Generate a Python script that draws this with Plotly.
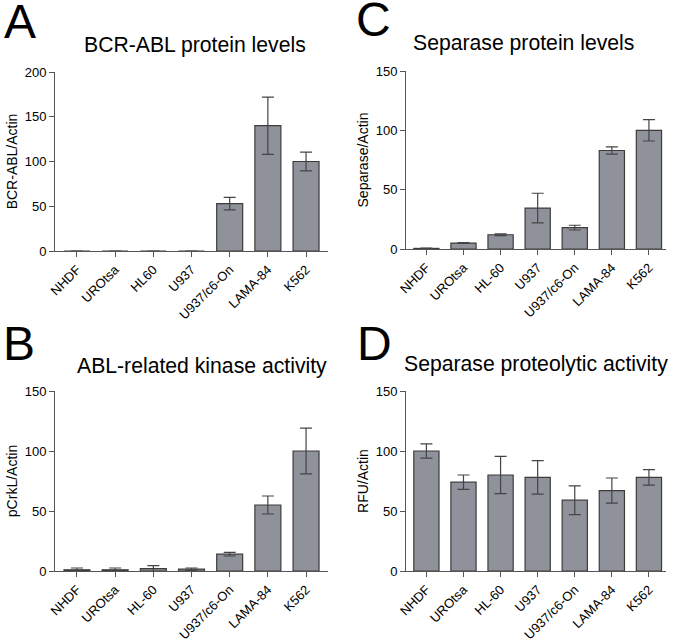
import plotly.graph_objects as go

W, H = 673, 644

cats_A = ["NHDF", "UROtsa", "HL60", "U937", "U937/c6-On", "LAMA-84", "K562"]
cats = ["NHDF", "UROtsa", "HL-60", "U937", "U937/c6-On", "LAMA-84", "K562"]

bcr_abl = [0, 0, 0, 0, 53, 140, 100]
bcr_abl_err = [0, 0, 0, 0, 7, 32, 10.5]

pcrkl = [1, 1, 2, 1.5, 14, 55, 100]
pcrkl_err = [1.5, 1.5, 2.5, 1, 1.5, 7.5, 19]

separase = [0.5, 5, 12, 34.5, 18, 83, 100]
separase_err = [0.2, 0.3, 0.7, 12.5, 2, 3, 9]

rfu = [100, 74, 80, 78, 59, 67, 78]
rfu_err = [6, 6, 15.5, 14, 12, 10.5, 6.5]

panels = [
    ("A", "BCR-ABL protein levels", "BCR-ABL/Actin", cats_A, bcr_abl, bcr_abl_err, 200),
    ("C", "Separase protein levels", "Separase/Actin", cats, separase, separase_err, 150),
    ("B", "ABL-related kinase activity", "pCrkL/Actin", cats, pcrkl, pcrkl_err, 150),
    ("D", "Separase proteolytic activity", "RFU/Actin", cats, rfu, rfu_err, 150),
]

# pixel geometry: (x_left, x_right, y_zero, y_top)
geom = [
    (55, 328, 251, 72),
    (406, 666, 249, 71),
    (55, 328, 571, 391),
    (406, 666, 571, 391),
]
xranges = [(-0.575, 6.575), (-0.55, 6.46), (-0.575, 6.575), (-0.55, 6.46)]

letters = [(20, 21), (373, 20), (19, 343), (374, 343)]
titles = [(195, 45), (523, 43), (202, 366), (536, 364)]

FONT = "Liberation Sans, Arial, sans-serif"
BAR = "#8f929a"
EDGE = "#3c3c3c"
AXC = "#555555"


def px(x):
    return x / W


def py(y):
    return 1 - y / H


fig = go.Figure()
layout = dict(
    template="none",
    width=W, height=H, margin=dict(l=0, r=0, t=0, b=0, pad=0),
    paper_bgcolor="white", plot_bgcolor="white", showlegend=False,
    font=dict(family=FONT, color="black"), annotations=[],
)

for i, (letter, title, ytitle, cs, vals, errs, ymax) in enumerate(panels):
    n = "" if i == 0 else str(i + 1)
    xl, xr, y0, yt = geom[i]
    fig.add_trace(go.Bar(
        x=list(range(len(cs))), y=vals,
        error_y=dict(type="data", array=errs, visible=True, color="#444444",
                     thickness=1.2, width=6),
        marker=dict(color=BAR, line=dict(color=EDGE, width=1.2)),
        width=0.68, xaxis="x" + n, yaxis="y" + n,
    ))
    layout["xaxis" + n] = dict(
        domain=[px(xl), px(xr)], range=list(xranges[i]), anchor="y" + n,
        automargin=False,
        tickmode="array", tickvals=list(range(len(cs))), ticktext=cs,
        tickangle=-45, ticks="outside", ticklen=5, tickcolor=AXC, tickwidth=1,
        showline=True, linecolor=AXC, linewidth=1, showgrid=False,
        zeroline=False, tickfont=dict(size=13, family=FONT, color="black"),
    )
    layout["yaxis" + n] = dict(
        domain=[py(y0), py(yt)], range=[0, ymax], anchor="x" + n,
        automargin=False,
        tickmode="linear", tick0=0, dtick=50, ticks="outside", ticklen=5,
        tickcolor=AXC, tickwidth=1, showline=True, linecolor=AXC, linewidth=1,
        showgrid=False, zeroline=False,
        tickfont=dict(size=13, family=FONT, color="black"),
        title=dict(text=ytitle, font=dict(size=14, family=FONT, color="black"),
                   standoff=3),
    )
    lx, ly = letters[i]
    layout["annotations"].append(dict(
        text=letter, x=px(lx), y=py(ly), xref="paper", yref="paper",
        xanchor="center", yanchor="middle", showarrow=False,
        font=dict(size=48, family=FONT, color="black"),
    ))
    tx, ty = titles[i]
    layout["annotations"].append(dict(
        text=title, x=px(tx), y=py(ty), xref="paper", yref="paper",
        xanchor="center", yanchor="middle", showarrow=False,
        font=dict(size=21.2, family=FONT, color="black"),
    ))

fig.update_layout(**layout)
fig.write_html("out.html",
               config={"displayModeBar": False},
               post_script="document.body.style.margin='0';"
                           "document.body.style.overflow='hidden';")
